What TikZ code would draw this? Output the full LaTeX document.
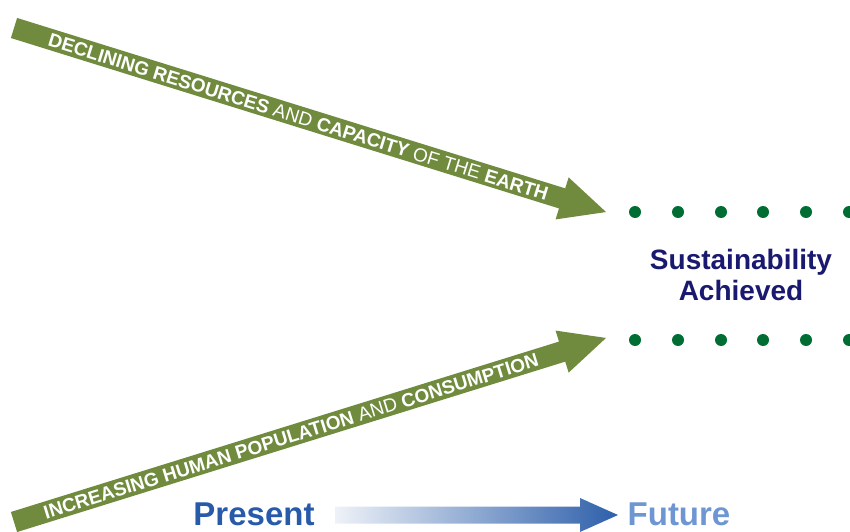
\documentclass[tikz,border=0pt]{standalone}
\usepackage{fontspec}
\setmainfont{Liberation Sans}
\definecolor{olivegreen}{RGB}{112,138,62}
\definecolor{dotgreen}{RGB}{0,110,50}
\definecolor{navytext}{RGB}{25,25,112}
\definecolor{presentblue}{RGB}{40,90,170}
\definecolor{futureblue}{RGB}{110,150,210}
\definecolor{arrowblue}{RGB}{45,95,170}
\begin{document}
\begin{tikzpicture}[x=1pt,y=1pt,
  dotstyle/.style={circle,fill=dotgreen,inner sep=0pt,minimum size=12pt},
  bandtext/.style={text=white,inner sep=0pt,transform shape,font=\fontsize{19}{22}\selectfont\bfseries},
  bigword/.style={inner sep=0pt,font=\fontsize{33}{38}\selectfont\bfseries}]
\useasboundingbox (0,0) rectangle (850,531);
% top arrow
\coordinate (ta) at (14,503);
\begin{scope}[shift={(ta)},rotate=-17.27]
  \fill[olivegreen] (0,10.5) -- (574,10.5) -- (574,22) -- (620,0) -- (574,-22) -- (574,-10.5) -- (0,-10.5) -- cycle;
  \node[bandtext,anchor=center] (toptext) at (298,-0.5)
   {DECLINING RESOURCES \mdseries AND \bfseries CAPACITY \mdseries OF THE \bfseries EARTH};
\end{scope}
% bottom arrow
\coordinate (ba) at (14,9);
\begin{scope}[shift={(ba)},rotate=17.27]
  \fill[olivegreen] (0,10.5) -- (574,10.5) -- (574,22) -- (620,0) -- (574,-22) -- (574,-10.5) -- (0,-10.5) -- cycle;
  \node[bandtext,anchor=center] (bottext) at (290,-0.5)
   {INCREASING HUMAN POPULATION \mdseries AND \bfseries CONSUMPTION};
\end{scope}
% dots
\foreach \x [count=\i] in {635,678,721,763,806,849}{
  \node[dotstyle] (u\i) at (\x,319) {};
  \node[dotstyle] (d\i) at (\x,191) {};
}
% center text
\node[text=navytext,font=\fontsize{28}{32}\selectfont\bfseries,align=center,inner sep=0pt] (sus) at (741,256)
  {Sustainability\\[-1pt]Achieved};
% bottom timeline
\node[bigword,text=presentblue,anchor=base] (present) at (254,6) {Present};
\node[bigword,text=futureblue,anchor=base] (future) at (679,6) {Future};
\shade[left color=arrowblue!8,right color=arrowblue] (335,7.5) -- (580,7.5) -- (580,-1) -- (618,16) -- (580,33) -- (580,24.5) -- (335,24.5) -- cycle;
\end{tikzpicture}
\end{document}
